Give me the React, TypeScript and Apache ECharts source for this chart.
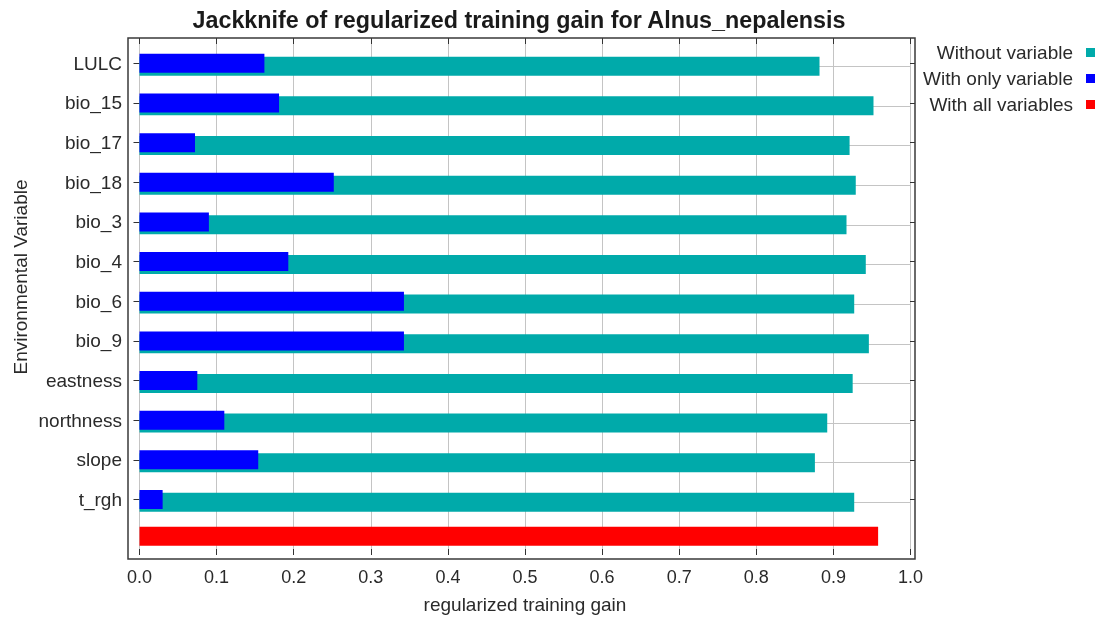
import React, { useEffect, useRef } from 'react';
import * as echarts from 'echarts';

const categories = ['LULC', 'bio_15', 'bio_17', 'bio_18', 'bio_3', 'bio_4', 'bio_6', 'bio_9', 'eastness', 'northness', 'slope', 't_rgh'];
const withoutVariable = [0.882, 0.952, 0.921, 0.929, 0.917, 0.942, 0.927, 0.946, 0.925, 0.892, 0.876, 0.927];
const withOnlyVariable = [0.162, 0.181, 0.072, 0.252, 0.090, 0.193, 0.343, 0.343, 0.075, 0.110, 0.154, 0.030];
const withAllVariables = 0.958;
const legendNames = ['Without variable', 'With only variable', 'With all variables'];

const FONT = "'Liberation Sans', Arial, Helvetica, sans-serif";

export default function App() {
  const ref = useRef<HTMLDivElement>(null);
  useEffect(() => {
    const chart = echarts.init(ref.current!, null, { renderer: 'svg' });
    const yCats = [...categories, ''];
    const tickFilter = (_i: number, v: string) => v !== '';
    const option = {
      animation: false,
      textStyle: { fontFamily: FONT },
      title: {
        text: 'Jackknife of regularized training gain for Alnus_nepalensis',
        left: 514,
        top: 3.5,
        textAlign: 'center',
        textStyle: { fontSize: 23.3, fontWeight: 'bold', color: '#1a1a1a', fontFamily: FONT },
      },
      legend: {
        orient: 'vertical',
        right: 6,
        top: 43,
        padding: 0,
        align: 'right',
        data: legendNames,
        icon: 'rect',
        itemWidth: 9,
        itemHeight: 9,
        itemGap: 7,
        textStyle: { fontSize: 19, color: '#2a2a2a', fontFamily: FONT, padding: [0, 8, 0, 0] },
      },
      grid: [
        { left: 139.5, right: 190.5, top: 43.5, bottom: 60, show: false },
        { left: 139.5, right: 190.5, top: 38, bottom: 60, show: false },
      ],
      xAxis: [
        { type: 'value', gridIndex: 0, min: 0, max: 1, show: false },
        {
          type: 'value', gridIndex: 1, min: 0, max: 1, interval: 0.1, position: 'bottom',
          axisLine: { show: false },
          axisTick: { show: true, inside: true, length: 6, lineStyle: { color: '#333' } },
          axisLabel: { formatter: (v: number) => v.toFixed(1), fontSize: 18, color: '#2a2a2a', margin: 13, fontFamily: FONT },
          splitLine: { show: true, lineStyle: { color: '#c4c4c4', width: 1 } },
          name: 'regularized training gain', nameLocation: 'middle', nameGap: 40,
          nameTextStyle: { fontSize: 19, color: '#2a2a2a', fontFamily: FONT },
        },
        {
          type: 'value', gridIndex: 1, min: 0, max: 1, interval: 0.1, position: 'top',
          axisLine: { show: false },
          axisTick: { show: true, inside: true, length: 6, lineStyle: { color: '#333' } },
          axisLabel: { show: false },
          splitLine: { show: false },
        },
      ],
      yAxis: [
        {
          type: 'category', gridIndex: 0, data: yCats, inverse: true, position: 'left', offset: 11.5,
          axisLine: { show: false },
          axisTick: { show: true, alignWithLabel: true, length: 6, interval: tickFilter, lineStyle: { color: '#333' } },
          axisLabel: { fontSize: 19, color: '#2a2a2a', margin: 6, fontFamily: FONT },
          splitLine: { show: false },
        },
        { type: 'value', gridIndex: 1, show: false },
        {
          type: 'category', gridIndex: 0, data: yCats, inverse: true, position: 'right', offset: 4.5,
          axisLine: { show: false },
          axisTick: { show: true, alignWithLabel: true, inside: true, length: 5, interval: tickFilter, lineStyle: { color: '#333' } },
          axisLabel: { show: false },
          splitLine: { show: false },
        },
      ],
      series: [
        {
          type: 'bar', name: 'With all variables', xAxisIndex: 0, yAxisIndex: 0,
          data: [...categories.map(() => null), withAllVariables],
          barWidth: 19, barGap: '-85%', z: 2,
          itemStyle: { color: '#ff0000' },
        },
        {
          type: 'bar', name: 'With only variable', xAxisIndex: 0, yAxisIndex: 0,
          data: withOnlyVariable,
          barWidth: 19, barGap: '-85%', z: 3,
          itemStyle: { color: '#0000ff' },
        },
        {
          type: 'bar', name: 'Without variable', xAxisIndex: 0, yAxisIndex: 0,
          data: withoutVariable,
          barWidth: 19, barGap: '-85%', z: 2,
          itemStyle: { color: '#00aaaa' },
          markLine: {
            silent: true,
            symbol: 'none',
            z: 1,
            label: { show: false },
            lineStyle: { color: '#c4c4c4', width: 1, type: 'solid' },
            data: categories.map((c) => ({ yAxis: c })),
          },
        },
      ],
      graphic: [
        {
          type: 'rect', z: 100, silent: true,
          shape: { x: 128, y: 38, width: 787, height: 521 },
          style: { fill: 'none', stroke: '#3a3a3a', lineWidth: 1.5 },
        },
        {
          type: 'text', x: 20, y: 277, rotation: Math.PI / 2, silent: true,
          style: { text: 'Environmental Variable', fontSize: 19, fill: '#2a2a2a', fontFamily: FONT, align: 'center', verticalAlign: 'middle' },
        },
      ],
    };
    chart.setOption(option as any);
    return () => chart.dispose();
  }, []);
  return <div ref={ref} style={{ position: 'fixed', left: 0, top: 0, width: 1101, height: 619 }} />;
}
